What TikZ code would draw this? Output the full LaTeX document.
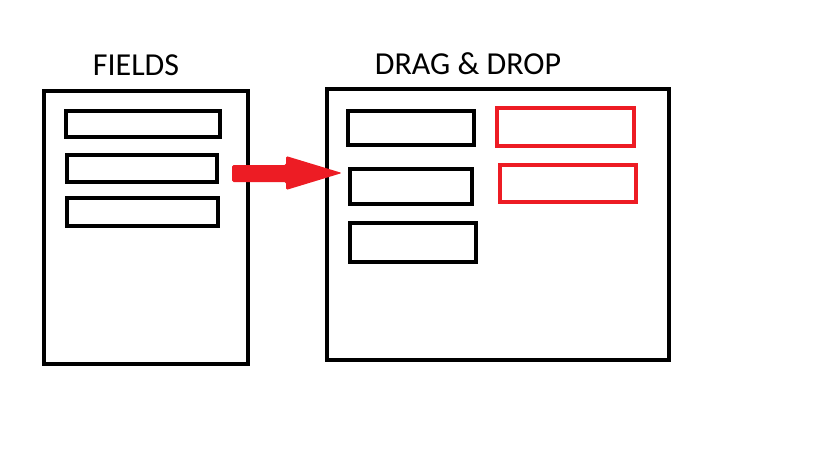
\documentclass[tikz,border=0pt]{standalone}
\usepackage{fontspec}
\setmainfont{Carlito}
\definecolor{pred}{RGB}{237,28,36}
\begin{document}
\begin{tikzpicture}[x=1pt,y=-1pt,
  box/.style={draw=black,line width=4pt},
  rbox/.style={draw=pred,line width=4pt},
  lbl/.style={font=\fontsize{32}{35}\selectfont,inner sep=0pt}]
\useasboundingbox[fill=white] (0,0) rectangle (819,460);
% left panel
\draw[box] (44,91) rectangle (248,364);
\draw[box] (66,111) rectangle (220,137);
\draw[box] (67,155) rectangle (217,182);
\draw[box] (67,198) rectangle (218,226);
\node[lbl] (fields) at (136,65) {FIELDS};
% right panel
\draw[box] (327,89) rectangle (669,360);
\draw[box] (348,111) rectangle (474,145);
\draw[box] (350,169) rectangle (472,204);
\draw[box] (350,223) rectangle (476,262);
\draw[rbox] (497,108) rectangle (634,146);
\draw[rbox] (500,165) rectangle (636,202);
\node[lbl] (dd) at (468,64) {DRAG \& DROP};
% arrow
\fill[pred,rounded corners=1.5pt] (232,165) -- (286,165) -- (286,156) -- (342,173) -- (286,190) -- (286,182) -- (232,182) -- cycle;
\end{tikzpicture}
\end{document}
